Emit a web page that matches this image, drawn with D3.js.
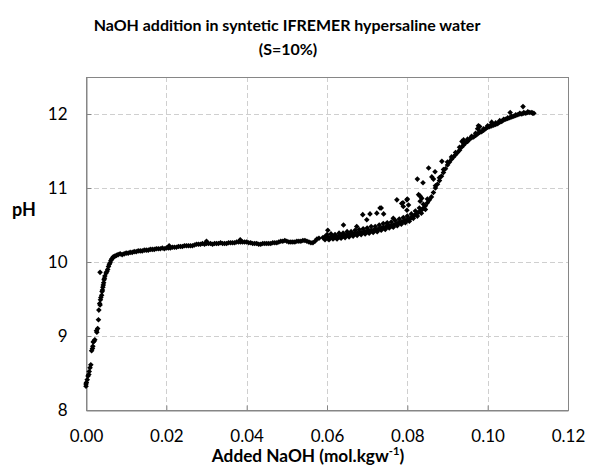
<!DOCTYPE html>
<html>
<head>
<meta charset="utf-8">
<script src="https://cdn.jsdelivr.net/npm/d3@7"></script>
<style>
  html, body { margin: 0; padding: 0; background: #fff; }
  svg { display: block; font-family: Lato, "Open Sans", sans-serif; }
</style>
</head>
<body>
<svg id="chart" width="589" height="470"></svg>
<script>
// ---------- DATA ----------
const titleLines = ["NaOH addition in syntetic IFREMER hypersaline water", "(S=10%)"];
const yTitle = "pH";
const xTitleMain = "Added NaOH (mol.kgw";
const xTitleSup = "-1";
const xTicks = [0, 0.02, 0.04, 0.06, 0.08, 0.10, 0.12];
const yTicks = [8, 9, 10, 11, 12];

// [added NaOH (mol/kgw), pH]
const steepRise = [
  [0.0000,8.32],[0.0000,8.35],[0.0001,8.37],[0.0003,8.41],[0.0005,8.46],[0.0007,8.48],[0.0008,8.52],
  [0.0010,8.57],[0.0012,8.61],[0.0014,8.80],[0.0016,8.83],[0.0017,8.86],[0.0018,8.92],[0.0020,8.93],
  [0.0022,8.95],[0.0026,9.07],[0.0027,9.05],[0.0029,9.10],[0.0031,9.22],[0.0032,9.35],[0.0034,9.44],
  [0.0035,9.42],[0.0036,9.49],[0.0037,9.52],[0.0039,9.55],[0.0040,9.60],[0.0041,9.62],[0.0042,9.66],
  [0.0043,9.69],[0.0044,9.72],[0.0045,9.76],[0.0046,9.78],[0.0047,9.81],[0.0035,9.86],[0.0050,9.85],
  [0.0052,9.87],[0.0054,9.90],[0.0056,9.94],[0.0058,9.97],[0.0060,9.99],[0.0062,10.02],[0.0064,10.04],
  [0.0066,10.05],[0.0068,10.07],[0.0072,10.08],[0.0076,10.09],[0.0080,10.10],[0.0085,10.11]
];

const plateau = [
  [0.0090,10.10],[0.0095,10.11],[0.0100,10.12],[0.0105,10.12],[0.0110,10.13],[0.0115,10.13],
  [0.0120,10.14],[0.0125,10.14],[0.0130,10.15],[0.0135,10.15],[0.0140,10.15],[0.0145,10.16],
  [0.0150,10.16],[0.0155,10.16],[0.0160,10.17],[0.0165,10.17],[0.0170,10.17],[0.0175,10.18],
  [0.0180,10.18],[0.0185,10.18],[0.0190,10.19],[0.0195,10.18],[0.0200,10.19],[0.0205,10.19],
  [0.0207,10.22],[0.0210,10.19],[0.0215,10.20],[0.0220,10.20],[0.0225,10.20],[0.0230,10.21],
  [0.0235,10.21],[0.0240,10.21],[0.0245,10.22],[0.0250,10.22],[0.0255,10.22],[0.0260,10.22],
  [0.0265,10.22],[0.0270,10.23],[0.0275,10.24],[0.0280,10.24],[0.0285,10.24],[0.0290,10.25],
  [0.0295,10.24],[0.0300,10.28],[0.0300,10.25],[0.0305,10.25],[0.0310,10.25],[0.0315,10.24],
  [0.0320,10.25],[0.0325,10.25],[0.0330,10.25],[0.0335,10.26],[0.0340,10.25],[0.0345,10.25],
  [0.0350,10.25],[0.0355,10.26],[0.0360,10.26],[0.0365,10.26],[0.0370,10.26],[0.0375,10.27],
  [0.0380,10.27],[0.0384,10.30],[0.0385,10.27],[0.0390,10.27],[0.0395,10.27],[0.0400,10.27],
  [0.0405,10.26],[0.0410,10.26],[0.0415,10.25],[0.0420,10.25],[0.0425,10.25],[0.0430,10.24],
  [0.0435,10.24],[0.0440,10.25],[0.0445,10.25],[0.0450,10.25],[0.0455,10.25],[0.0460,10.25],
  [0.0465,10.26],[0.0470,10.26],[0.0475,10.26],[0.0480,10.27],[0.0485,10.28],[0.0490,10.28],
  [0.0495,10.29],[0.0500,10.28],[0.0505,10.27],[0.0510,10.27],[0.0515,10.27],[0.0520,10.27],
  [0.0525,10.28],[0.0530,10.28],[0.0535,10.28],[0.0540,10.29],[0.0545,10.29],[0.0550,10.28],
  [0.0555,10.27],[0.0560,10.26],[0.0565,10.26],[0.0570,10.28],[0.0575,10.31],[0.0580,10.32]
];

const mainCurve = [
  [0.0590,10.33],[0.0595,10.34],[0.0600,10.34],[0.0605,10.33],[0.0610,10.34],[0.0615,10.34],
  [0.0620,10.33],[0.0625,10.34],[0.0630,10.34],[0.0635,10.35],[0.0640,10.35],[0.0645,10.36],
  [0.0650,10.36],[0.0655,10.37],[0.0660,10.37],[0.0665,10.38],[0.0670,10.38],[0.0675,10.39],
  [0.0680,10.39],[0.0685,10.40],[0.0690,10.40],[0.0695,10.41],[0.0700,10.41],[0.0705,10.42],
  [0.0710,10.43],[0.0715,10.43],[0.0720,10.44],[0.0725,10.44],[0.0730,10.45],[0.0735,10.46],
  [0.0740,10.47],[0.0745,10.47],[0.0750,10.48],[0.0755,10.49],[0.0760,10.49],[0.0765,10.50],
  [0.0770,10.51],[0.0775,10.52],[0.0780,10.53],[0.0785,10.54],[0.0790,10.55],[0.0795,10.56],
  [0.0800,10.57],[0.0805,10.58],[0.0810,10.60],[0.0815,10.62],[0.0820,10.64],[0.0825,10.66],
  [0.0830,10.68],[0.0835,10.70],[0.0840,10.73],[0.0845,10.76],[0.0850,10.80],[0.0855,10.84],
  [0.0860,10.88],[0.0865,10.94],[0.0870,11.00],[0.0875,11.05],[0.0880,11.10],[0.0885,11.16],
  [0.0890,11.21],[0.0895,11.26],[0.0900,11.31],[0.0905,11.35],[0.0910,11.39],[0.0915,11.42],
  [0.0920,11.45],[0.0925,11.48],[0.0930,11.51],[0.0935,11.55],[0.0940,11.58],[0.0945,11.61],
  [0.0950,11.63],[0.0955,11.66],[0.0960,11.68],[0.0965,11.69],[0.0970,11.71],[0.0975,11.73],
  [0.0980,11.75],[0.0985,11.76],[0.0990,11.78],[0.0995,11.80],[0.1000,11.82],[0.1005,11.83],
  [0.1010,11.84],[0.1015,11.85],[0.1020,11.86],[0.1025,11.87],[0.1030,11.89],[0.1035,11.90],
  [0.1040,11.92],[0.1045,11.93],[0.1050,11.94],[0.1055,11.95],[0.1060,11.96],[0.1065,11.97],
  [0.1070,11.98],[0.1075,11.99],[0.1080,12.00],[0.1085,12.00],[0.1090,12.01],[0.1095,12.01],
  [0.1100,12.02],[0.1105,12.02],[0.1110,12.02],[0.1112,12.01],[0.1115,12.01]
];

const bandUpper = [
  [0.060,10.37],[0.061,10.38],[0.062,10.37],[0.063,10.39],[0.064,10.39],[0.065,10.41],[0.066,10.41],
  [0.067,10.43],[0.068,10.44],[0.069,10.45],[0.070,10.46],[0.071,10.48],[0.072,10.48],[0.073,10.50],
  [0.074,10.52],[0.075,10.53],[0.076,10.54],[0.077,10.56],[0.078,10.58],[0.079,10.60],[0.080,10.62],
  [0.081,10.65],[0.082,10.69],[0.083,10.73],[0.084,10.78],[0.085,10.85],
  [0.087,11.03],[0.088,11.14],[0.089,11.25],[0.090,11.35],[0.091,11.42],[0.092,11.48],[0.093,11.55],
  [0.094,11.61],[0.095,11.66],[0.096,11.70],[0.097,11.74],[0.098,11.77],[0.099,11.80],[0.100,11.84],
  [0.101,11.86],[0.102,11.88],[0.103,11.91],[0.104,11.93],[0.105,11.95],[0.106,11.97],[0.107,11.99],
  [0.108,12.01],[0.109,12.02],[0.110,12.03]
];

const bandLower = [
  [0.0595,10.30],[0.0605,10.30],[0.0615,10.31],[0.0625,10.31],[0.0635,10.32],[0.0645,10.33],
  [0.0655,10.34],[0.0665,10.35],[0.0675,10.36],[0.0685,10.37],[0.0695,10.38],[0.0705,10.39],
  [0.0715,10.40],[0.0725,10.41],[0.0735,10.43],[0.0745,10.44],[0.0755,10.46],[0.0765,10.47],
  [0.0775,10.49],[0.0785,10.51],[0.0795,10.53],[0.0805,10.55],[0.0815,10.59],[0.0825,10.62],
  [0.0835,10.66],[0.0845,10.71]
];

const scatterPoints = [
  [0.0602,10.43],[0.0641,10.50],[0.0674,10.48],[0.0689,10.64],[0.0699,10.57],[0.0707,10.65],
  [0.0724,10.66],[0.0732,10.73],[0.0735,10.73],[0.0741,10.65],[0.0749,10.52],[0.0765,10.59],
  [0.0774,10.84],[0.0786,10.79],[0.0789,10.80],[0.0790,10.75],[0.0799,10.70],[0.0799,10.84],
  [0.0800,10.85],[0.0803,10.77],[0.0825,11.12],[0.0828,10.91],[0.0832,10.82],[0.0832,10.89],
  [0.0836,10.86],[0.0839,11.07],[0.0853,11.27],[0.0861,11.15],[0.0865,11.12],[0.0869,11.22],
  [0.0886,11.36],[0.0936,11.63],[0.0940,11.65],[0.0975,11.80],[0.0977,11.84],[0.0980,11.83],
  [0.1010,11.89],[0.1056,12.02],[0.1088,12.10]
];

// ---------- LAYOUT ----------
const svg = d3.select("#chart");
const plot = { left: 86, right: 568, top: 77, bottom: 410 };

const x = d3.scaleLinear().domain([0, 0.12]).range([plot.left, plot.right]);
const y = d3.scaleLinear().domain([8, 12.5]).range([plot.bottom, plot.top]);

const gridColor = "#cfcfcf";
const axisColor = "#868686";

// gridlines
svg.append("g").selectAll("line").data(xTicks.filter(d => d > 0 && d < 0.12)).join("line")
  .attr("x1", d => Math.round(x(d)) + 0.5).attr("x2", d => Math.round(x(d)) + 0.5)
  .attr("y1", plot.top).attr("y2", plot.bottom)
  .attr("stroke", gridColor).attr("stroke-dasharray", "5,3");
svg.append("g").selectAll("line").data(yTicks.filter(d => d > 8)).join("line")
  .attr("y1", d => Math.round(y(d)) + 0.5).attr("y2", d => Math.round(y(d)) + 0.5)
  .attr("x1", plot.left).attr("x2", plot.right)
  .attr("stroke", gridColor).attr("stroke-dasharray", "5,3");

// plot frame
svg.append("rect")
  .attr("x", plot.left + 0.5).attr("y", plot.top + 0.5)
  .attr("width", plot.right - plot.left).attr("height", plot.bottom - plot.top)
  .attr("fill", "none").attr("stroke", axisColor);

// axes with inside tick marks
const xAxis = d3.axisBottom(x).tickValues(xTicks).tickSizeInner(-5).tickSizeOuter(0)
  .tickFormat(d3.format(".2f")).tickPadding(0);
const gx = svg.append("g").attr("transform", `translate(0,${plot.bottom + 0.5})`).call(xAxis);
gx.select(".domain").attr("stroke", axisColor);
gx.selectAll(".tick line").attr("stroke", axisColor);
gx.selectAll(".tick text").attr("font-size", 17).attr("fill", "#000")
  .attr("font-family", "Lato, sans-serif").attr("dy", null).attr("y", 31);

const yAxis = d3.axisLeft(y).tickValues(yTicks).tickSizeInner(-5).tickSizeOuter(0)
  .tickFormat(d3.format("d")).tickPadding(0);
const gy = svg.append("g").attr("transform", `translate(${plot.left + 0.5},0)`).call(yAxis);
gy.select(".domain").attr("stroke", axisColor);
gy.selectAll(".tick line").attr("stroke", axisColor);
gy.selectAll(".tick text").attr("font-size", 17).attr("fill", "#000")
  .attr("font-family", "Lato, sans-serif").attr("x", -19);

// data markers (small diamonds)
const allPoints = [].concat(steepRise, plateau, bandLower, mainCurve, bandUpper, scatterPoints);
const r = 2.8;
svg.append("g").selectAll("path").data(allPoints).join("path")
  .attr("d", `M0,${-r}L${r},0L0,${r}L${-r},0Z`)
  .attr("transform", d => `translate(${x(d[0])},${y(d[1])})`)
  .attr("fill", "#000");

// title
const title = svg.append("text").attr("text-anchor", "middle")
  .attr("font-weight", "bold").attr("font-size", 16).attr("fill", "#000");
title.append("tspan").attr("x", 287).attr("y", 31).text(titleLines[0]);
title.append("tspan").attr("x", 288).attr("y", 55).text(titleLines[1]);
const tw = title.select("tspan").node().getComputedTextLength();
title.attr("font-size", 16 * 387 / tw);

// y title
svg.append("text").attr("x", 24).attr("y", 216).attr("text-anchor", "middle")
  .attr("font-weight", "bold").attr("font-size", 18).attr("fill", "#000").text(yTitle);

// x title
const xt = svg.append("text").attr("x", 308).attr("y", 462).attr("text-anchor", "middle")
  .attr("font-weight", "bold").attr("font-size", 16).attr("fill", "#000");
xt.append("tspan").text(xTitleMain);
xt.append("tspan").attr("font-size", 11).attr("dy", -6).text(xTitleSup);
xt.append("tspan").attr("dy", 6).text(")");
const xw = xt.node().getComputedTextLength();
const fs = 16 * 193 / xw;
xt.attr("font-size", fs);
xt.selectAll("tspan").filter((d, i) => i === 1).attr("font-size", fs * 0.65).attr("dy", -fs * 0.38);
xt.selectAll("tspan").filter((d, i) => i === 2).attr("dy", fs * 0.38);
</script>
</body>
</html>
